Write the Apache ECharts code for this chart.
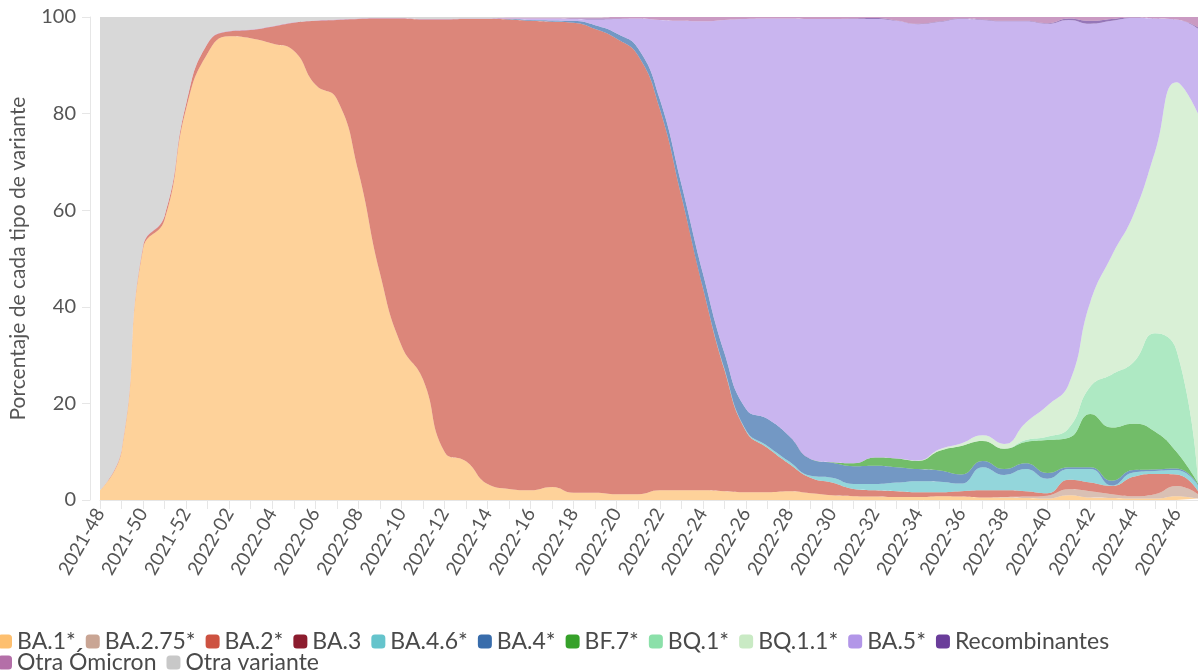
<!DOCTYPE html>
<html>
<head>
<meta charset="utf-8">
<title>Variantes</title>
<script src="https://cdn.jsdelivr.net/npm/echarts@6/dist/echarts.min.js"></script>
<style>
  html, body { margin: 0; padding: 0; background: #fff; }
  #main { width: 1198px; height: 670px; }
</style>
</head>
<body>
<div id="main"></div>
<script>
// semanas epidemiologicas
var semanas = ['2021-48','2021-49','2021-50','2021-51','2021-52',
  '2022-01','2022-02','2022-03','2022-04','2022-05','2022-06','2022-07','2022-08','2022-09','2022-10',
  '2022-11','2022-12','2022-13','2022-14','2022-15','2022-16','2022-17','2022-18','2022-19','2022-20',
  '2022-21','2022-22','2022-23','2022-24','2022-25','2022-26','2022-27','2022-28','2022-29','2022-30',
  '2022-31','2022-32','2022-33','2022-34','2022-35','2022-36','2022-37','2022-38','2022-39','2022-40',
  '2022-41','2022-42','2022-43','2022-44','2022-45','2022-46','2022-47'];

// porcentaje por variante (orden de apilado, de abajo hacia arriba)
var ba1 = [2,10,52,58,81,92.5,96,95.6,94.5,93, 86,83,68,47,32,25,10,8,3.3,2.3,
  2,2.7,1.5,1.5,1.2,1.2,2,2,2,1.8, 1.6,1.6,1.8,1.4,1.0,0.8,0.7,0.6,0.6,0.8,
  0.7,0.5,0.5,0.4,0.3,1.0,0.5,0.4,0.3,0.3, 0.8,0.3];
var ba275 = [0,0,0,0,0,0,0,0,0,0, 0,0,0,0,0,0,0,0,0,0, 0,0,0,0,0,0,0,0,0,0,
  0,0,0,0,0,0,0,0,0,0, 0,0,0.1,0.3,0.6,1.2,1.3,0.8,0.5,0.9, 2.1,0.9];
var ba2 = [0,0.3,0.5,0.8,1,2,1,1.7,3.5,5.8, 13.2,16.4,31.6,52.7,67.7,74.5,89.5,91.6,96.3,97.2,
  97.2,96.3,97.3,96,94.3,90.8,79,61,42,25.2, 12.7,9.2,5.7,3.2,2.6,1.5,1.3,1.2,1.0,0.8,
  1.1,1.5,1.4,1.1,0.5,2.0,1.8,1.7,4.0,4.2, 2.4,0.7];
var ba3 = [0,0,0,0,0,0,0,0,0,0, 0,0,0,0,0,0,0,0,0,0, 0,0,0,0,0,0,0,0,0,0,
  0,0,0,0,0,0,0,0,0,0, 0,0,0,0,0,0,0,0,0,0, 0,0];
var ba46 = [0,0,0,0,0,0,0,0,0,0, 0,0,0,0,0,0,0,0,0,0, 0,0,0,0,0,0,0,0,0,0.2,
  0.2,0.4,0.5,0.4,1.0,1.0,1.3,1.8,2.3,2.2, 1.6,4.8,3.2,4.6,3.0,2.2,2.8,0.1,0.9,0.6, 0.9,1.1];
var ba4 = [0,0,0,0,0,0,0,0,0,0, 0,0,0,0,0,0,0,0,0,0.1, 0.2,0.3,0.4,0.8,1.1,1.5,2.0,2.5,3.0,3.3,
  4.4,5.6,5.3,3.5,3.1,3.7,3.8,3.2,2.5,2.3, 1.9,1.3,1.2,1.2,1.2,0.4,0.4,1.0,0.5,0.3, 0.3,0.2];
var bf7 = [0,0,0,0,0,0,0,0,0,0, 0,0,0,0,0,0,0,0,0,0, 0,0,0,0,0,0,0,0,0,0,
  0,0,0,0,0.1,0.6,1.7,1.8,1.7,4.1, 5.9,4.1,4.2,4.4,6.8,6.1,11.0,11.0,9.6,7.9, 3.5,0.3];
var bq1 = [0,0,0,0,0,0,0,0,0,0, 0,0,0,0,0,0,0,0,0,0, 0,0,0,0,0,0,0,0,0,0,
  0,0,0,0,0,0,0,0,0,0, 0,0,0,0.4,0.7,2.0,5.7,11,12.7,20.3, 21,0.5];
var bq11 = [0,0,0,0,0,0,0,0,0,0, 0,0,0,0,0,0,0,0,0,0, 0,0,0,0,0,0,0,0,0,0,
  0,0,0,0,0,0,0,0,0.1,0.3, 0.5,1.2,1.0,3.6,6.4,9.1,17.5,24.6,30.5,37.5, 55.5,76];
var ba5 = [0,0,0,0,0,0,0,0,0,0, 0,0,0,0,0,0,0,0,0,0.1, 0.3,0.4,0.4,1.2,3.0,6.2,16.4,33.7,52.1,68.9,
  80.7,82.9,86.4,91.1,91.8,92.0,90.8,90.6,90.3,88.5, 87.9,86.0,87.5,83.1,79.1,75.4,57.6,48.6,40.8,27.7, 13.0,17.6];
var recomb = [0,0,0,0,0,0,0,0,0,0, 0,0,0,0,0,0,0,0,0,0, 0,0,0.1,0.2,0.1,0,0,0,0,0,
  0,0,0,0,0,0.1,0.2,0.1,0.1,0.1, 0.1,0.1,0.1,0.1,0.1,0.3,0.6,0.4,0.1,0, 0,0.3];
var otraOmicron = [0,0,0.1,0.1,0.1,0.1,0.1,0.1,0.1,0.1, 0.1,0.1,0.1,0.1,0.1,0.1,0.1,0.1,0.1,0.2,
  0.2,0.2,0.2,0.2,0.3,0.3,0.6,0.8,0.9,0.6, 0.4,0.3,0.3,0.4,0.4,0.3,0.2,0.7,1.4,0.9,
  0.3,0.5,0.8,0.8,1.3,0.3,0.8,0.4,0.1,0.3, 0.5,2.1];
var otraVariante = [98,89.7,47.4,41.1,17.9,5.4,2.9,2.6,1.9,1.1, 0.7,0.5,0.3,0.2,0.2,0.4,0.4,0.3,0.3,0.1,
  0.1,0.1,0.1,0.1,0,0,0,0,0,0, 0,0,0,0,0,0,0,0,0,0, 0,0,0,0,0,0,0,0,0,0, 0,0];

var nombres = ['BA.1*','BA.2.75*','BA.2*','BA.3','BA.4.6*','BA.4*','BF.7*','BQ.1*','BQ.1.1*','BA.5*','Recombinantes','Otra Ómicron','Otra variante'];
var datos = [ba1, ba275, ba2, ba3, ba46, ba4, bf7, bq1, bq11, ba5, recomb, otraOmicron, otraVariante];
var colores = ['#fdbf6f','#c9a594','#cd5241','#8c1c2e','#65c4cc','#386cab','#36a12a','#8be0a9','#c9eac4','#b296e8','#6a3d9a','#b46fa8','#c8c8c8'];

var fuente = 'Lato, "Noto Sans", sans-serif';

var series = [];
for (var i = 0; i < nombres.length; i++) {
  series.push({
    name: nombres[i],
    type: 'line',
    stack: 'total',
    smooth: true,
    symbol: 'none',
    color: colores[i],
    lineStyle: { width: 0 },
    areaStyle: { opacity: 0.7 },
    emphasis: { disabled: true },
    data: datos[i]
  });
}

var leyenda = {
  left: -7,
  orient: 'horizontal',
  icon: 'roundRect',
  itemWidth: 14,
  itemHeight: 14,
  itemGap: 10,
  textStyle: { fontFamily: fuente, fontSize: 23, color: '#4a4a4a' }
};

var chart = echarts.init(document.getElementById('main'));
chart.setOption({
  animation: false,
  backgroundColor: '#fff',
  textStyle: { fontFamily: fuente },
  grid: { left: 100, right: 0, top: 17, bottom: 170 },
  legend: [
    Object.assign({}, leyenda, { top: 625, data: nombres.slice(0, 11) }),
    Object.assign({}, leyenda, { top: 646, data: nombres.slice(11) })
  ],
  xAxis: {
    type: 'category',
    boundaryGap: false,
    data: semanas,
    axisLine: { lineStyle: { color: '#e6e6e6', width: 1 } },
    axisTick: { show: true, interval: 0, length: 9, lineStyle: { color: '#e6e6e6' } },
    axisLabel: { interval: 1, rotate: 60, margin: 10, fontSize: 19, color: '#555', fontFamily: fuente },
    splitLine: { show: false }
  },
  yAxis: {
    type: 'value',
    min: 0,
    max: 100,
    interval: 20,
    offset: 10,
    name: 'Porcentaje de cada tipo de variante',
    nameLocation: 'middle',
    nameGap: 61,
    nameTextStyle: { fontSize: 21, color: '#555', fontFamily: fuente },
    axisLine: { show: true, lineStyle: { color: '#e6e6e6' } },
    axisTick: { show: true, length: 8, lineStyle: { color: '#e6e6e6' } },
    axisLabel: { margin: 14, fontSize: 20, color: '#555', fontFamily: fuente },
    splitLine: { show: false }
  },
  series: series
});
</script>
</body>
</html>
